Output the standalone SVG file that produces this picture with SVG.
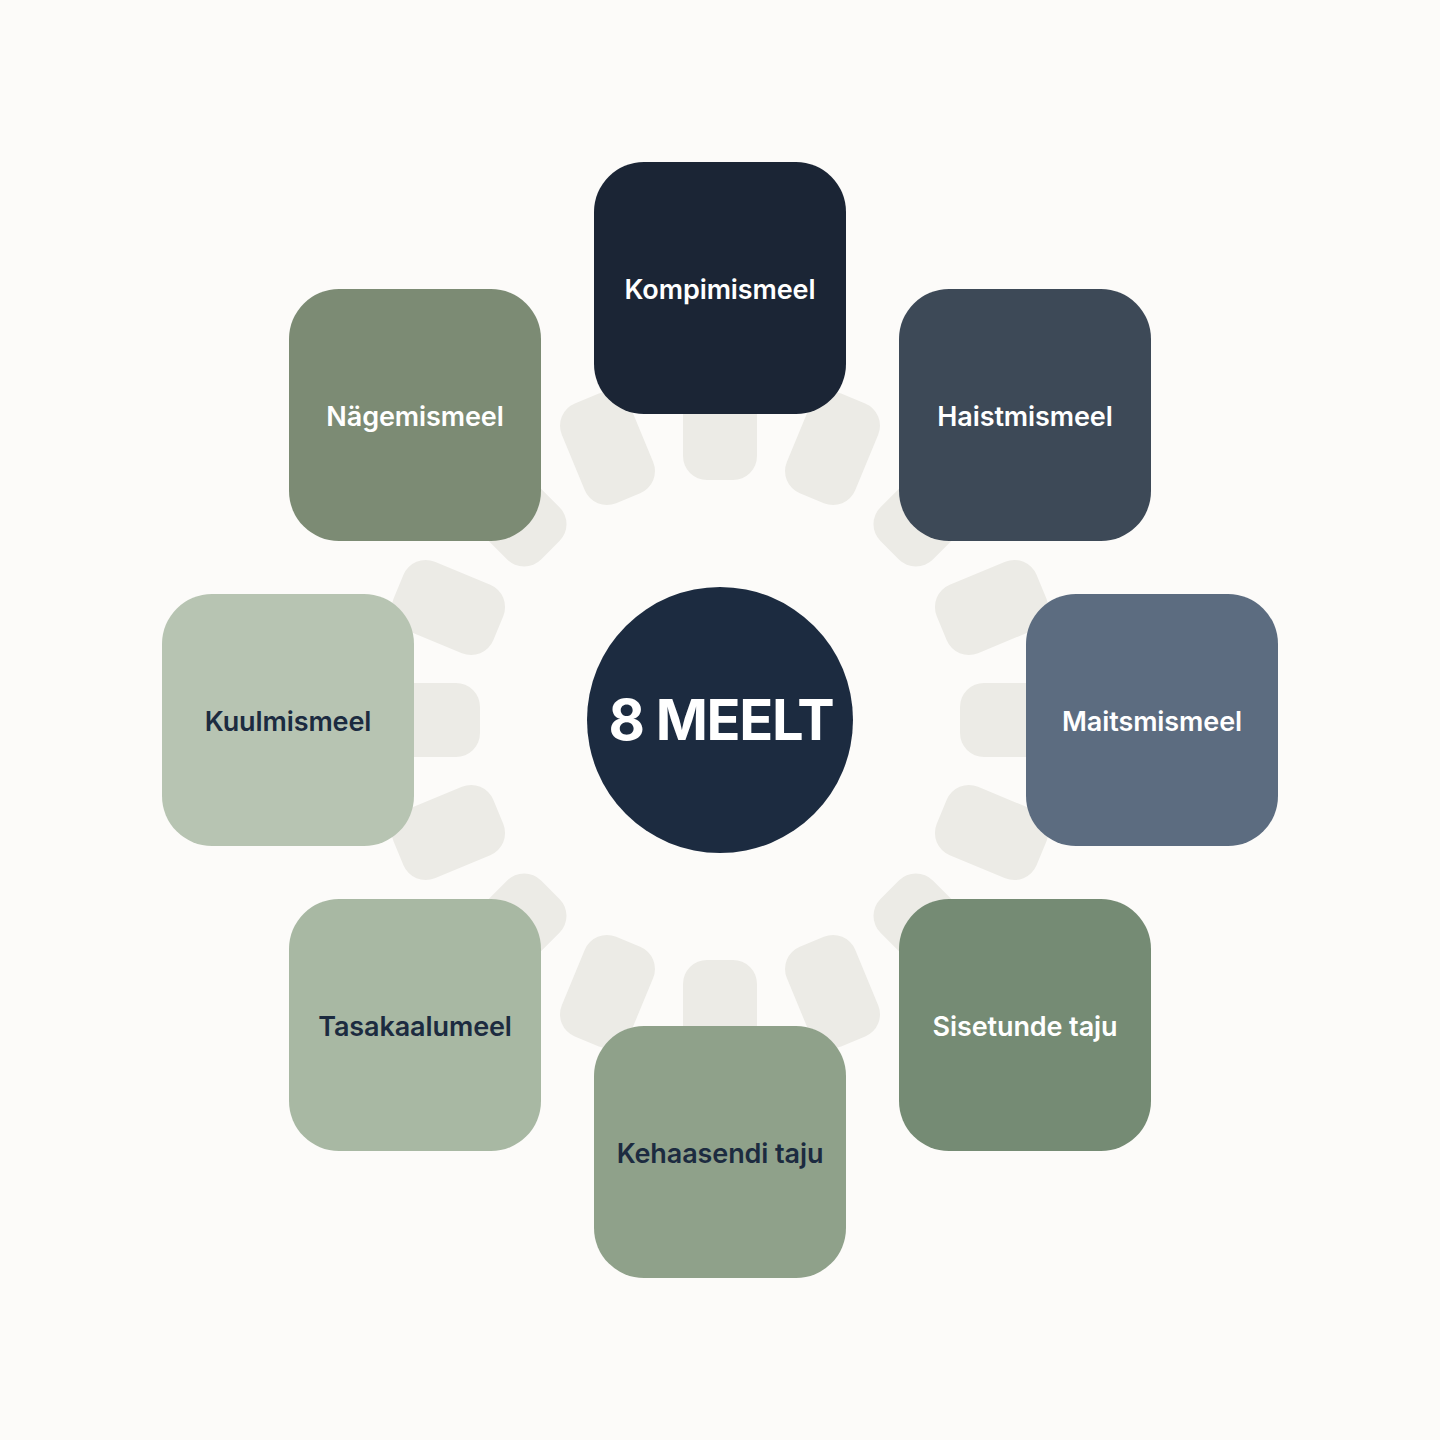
<svg xmlns="http://www.w3.org/2000/svg" width="1440" height="1440" viewBox="0 0 1440 1440">
  <style>
    .pill { fill: #ecebe6; }
    .node-label { font-family: Inter, "Liberation Sans", sans-serif; font-size: 27px; font-weight: 600; text-anchor: middle; letter-spacing: -0.1px; }
    .light { fill: #ffffff; }
    .dark { fill: #1c2b40; }
    .center-label { font-family: Inter, "Liberation Sans", sans-serif; font-size: 56px; font-weight: 700; text-anchor: middle; fill: #ffffff; letter-spacing: -1.3px; }
  </style>
  <defs>
    <rect id="pill" x="-37" y="-348" width="74" height="108" rx="24" ry="24"/>
  </defs>
  <rect x="0" y="0" width="1440" height="1440" fill="#fcfbf9"/>

  <g id="connectors" class="pill" transform="translate(720 720)">
    <use href="#pill" transform="rotate(0)"/>
    <use href="#pill" transform="rotate(22.5)"/>
    <use href="#pill" transform="rotate(45)"/>
    <use href="#pill" transform="rotate(67.5)"/>
    <use href="#pill" transform="rotate(90)"/>
    <use href="#pill" transform="rotate(112.5)"/>
    <use href="#pill" transform="rotate(135)"/>
    <use href="#pill" transform="rotate(157.5)"/>
    <use href="#pill" transform="rotate(180)"/>
    <use href="#pill" transform="rotate(202.5)"/>
    <use href="#pill" transform="rotate(225)"/>
    <use href="#pill" transform="rotate(247.5)"/>
    <use href="#pill" transform="rotate(270)"/>
    <use href="#pill" transform="rotate(292.5)"/>
    <use href="#pill" transform="rotate(315)"/>
    <use href="#pill" transform="rotate(337.5)"/>
  </g>

  <g id="center">
    <circle cx="720" cy="720" r="133" fill="#1c2b40"/>
    <text class="center-label" x="721" y="740">8 MEELT</text>
  </g>

  <g id="kompimismeel">
    <rect x="594" y="162" width="252" height="252" rx="50" fill="#1b2535"/>
    <text class="node-label light" x="720" y="298.5">Kompimismeel</text>
  </g>
  <g id="haistmismeel">
    <rect x="899" y="289" width="252" height="252" rx="50" fill="#3d4957"/>
    <text class="node-label light" x="1025" y="425.5">Haistmismeel</text>
  </g>
  <g id="maitsmismeel">
    <rect x="1026" y="594" width="252" height="252" rx="50" fill="#5c6c80"/>
    <text class="node-label light" x="1152" y="730.5">Maitsmismeel</text>
  </g>
  <g id="sisetunde-taju">
    <rect x="899" y="899" width="252" height="252" rx="50" fill="#758b74"/>
    <text class="node-label light" x="1025" y="1035.5">Sisetunde taju</text>
  </g>
  <g id="kehaasendi-taju">
    <rect x="594" y="1026" width="252" height="252" rx="50" fill="#8fa18a"/>
    <text class="node-label dark" x="720" y="1162.5">Kehaasendi taju</text>
  </g>
  <g id="tasakaalumeel">
    <rect x="289" y="899" width="252" height="252" rx="50" fill="#a8b8a3"/>
    <text class="node-label dark" x="415" y="1035.5">Tasakaalumeel</text>
  </g>
  <g id="kuulmismeel">
    <rect x="162" y="594" width="252" height="252" rx="50" fill="#b7c4b2"/>
    <text class="node-label dark" x="288" y="730.5">Kuulmismeel</text>
  </g>
  <g id="nagemismeel">
    <rect x="289" y="289" width="252" height="252" rx="50" fill="#7c8b74"/>
    <text class="node-label light" x="415" y="425.5">Nägemismeel</text>
  </g>
</svg>
